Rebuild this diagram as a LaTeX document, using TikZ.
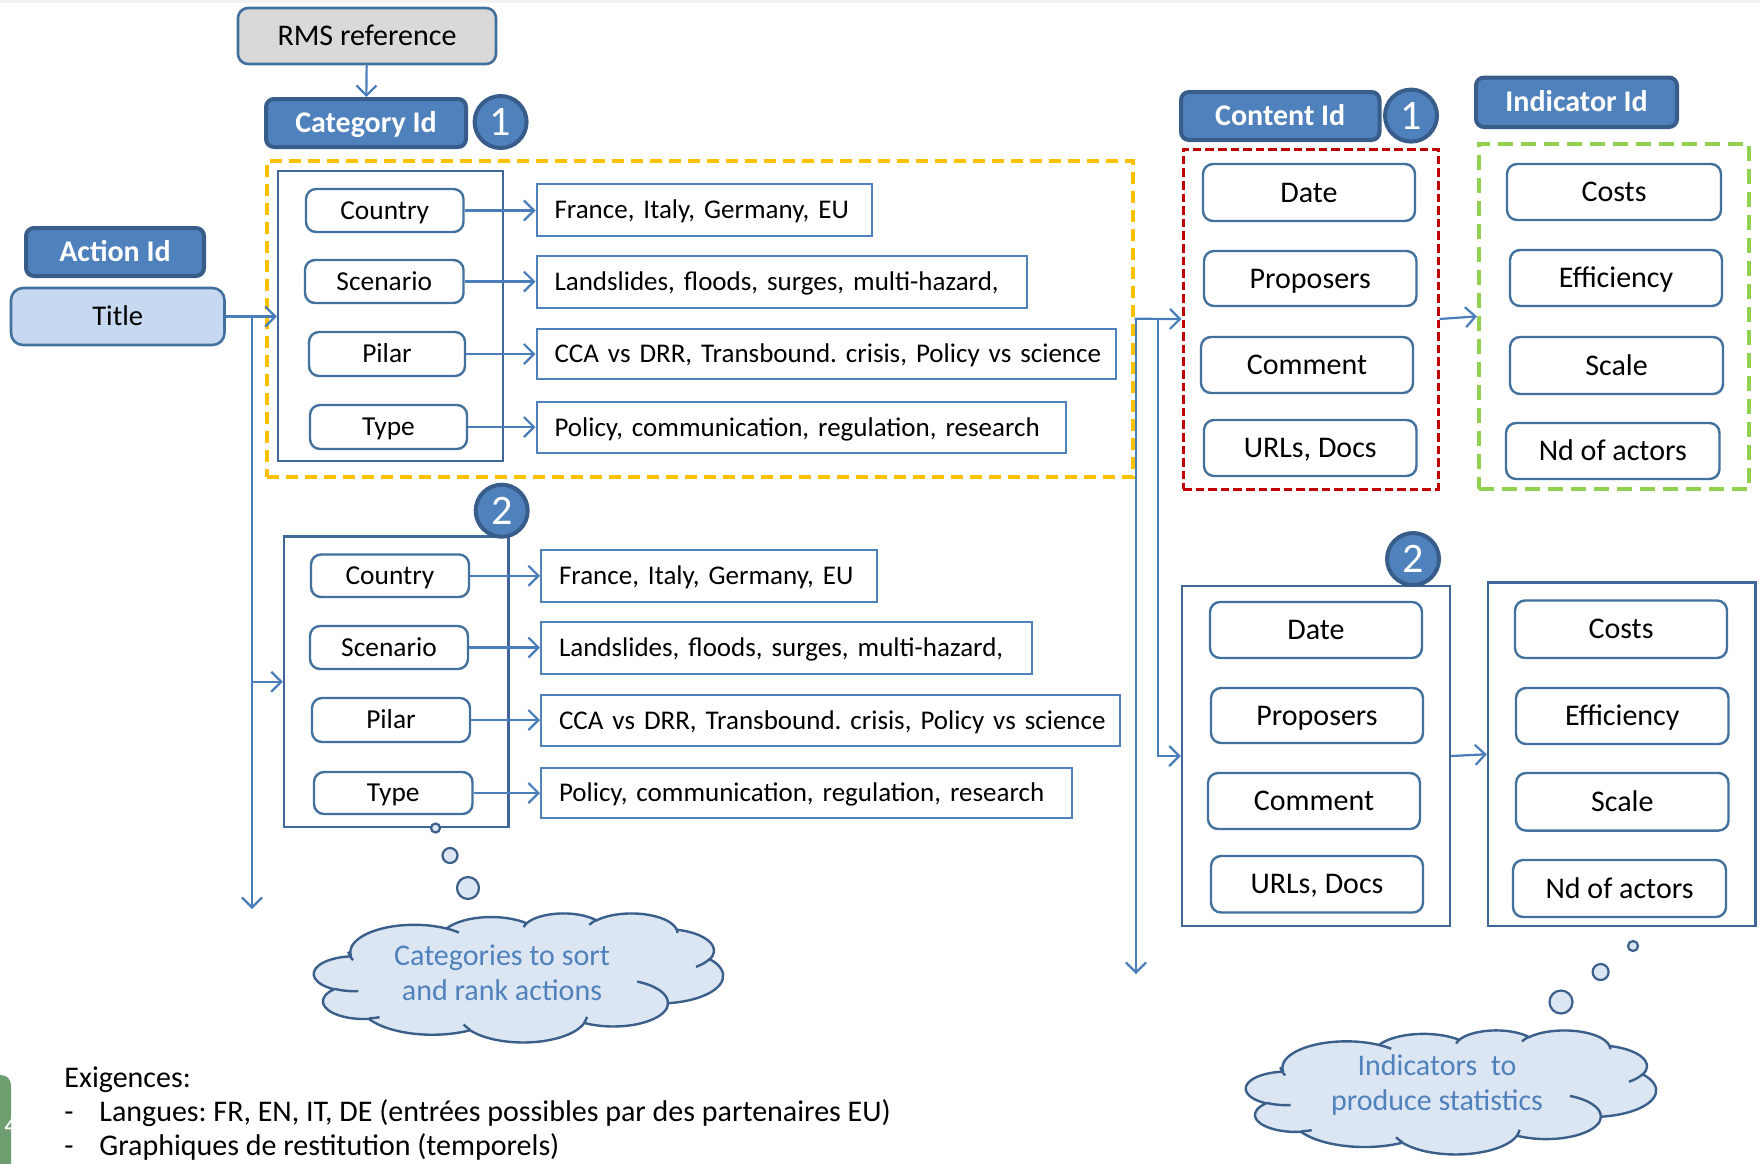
\documentclass[tikz,border=0pt]{standalone}
\usepackage{fontspec}
\setmainfont{Carlito}
\usetikzlibrary{arrows.meta,calc}
\definecolor{hdrfill}{HTML}{4F81BD}
\definecolor{hdrdraw}{HTML}{385D8A}
\definecolor{rdraw}{HTML}{41719C}
\definecolor{vdraw}{HTML}{4F81BD}
\definecolor{cdraw}{HTML}{3F6797}
\definecolor{arrc}{HTML}{4A7EBB}
\definecolor{titlefill}{HTML}{C6D9F1}
\definecolor{rmsfill}{HTML}{D9D9D9}
\definecolor{cloudfill}{HTML}{DCE6F2}
\definecolor{clouddraw}{HTML}{3A5F8B}
\definecolor{cloudtext}{HTML}{4F81BD}
\definecolor{orangec}{HTML}{FFC000}
\definecolor{redc}{HTML}{C00000}
\definecolor{greenc}{HTML}{92D050}
\definecolor{tabgreen}{HTML}{6E9E70}
\frenchspacing
\newcommand\mybox[7]{%
  \pgfmathsetmacro\bxw{(#5-#3)*0.5}\pgfmathsetmacro\bxh{(#6-#4)*0.5}%
  \node[#1,minimum width=\bxw pt,minimum height=\bxh pt] (#2) at ({(#3+#5)/2},{(#4+#6)/2}) {#7};}
\newcommand\myval[6]{%
  \pgfmathsetmacro\bxw{(#4-#2)*0.5-18}\pgfmathsetmacro\bxh{(#5-#3)*0.5}%
  \node[vbox,text width=\bxw pt,minimum height=\bxh pt] (#1) at ({(#2+#4)/2},{(#3+#5)/2}) {\mbox{#6}};}
% arc in the DrawingML sense (visual angles), radii wR hR, start and sweep in degrees
\newcommand\ooarc[4]{\pgfextra{%
  \pgfmathsetmacro\oaA{atan2((#1)*sin(#3),(#2)*cos(#3))}%
  \pgfmathsetmacro\oaB{atan2((#1)*sin((#3)+(#4)),(#2)*cos((#3)+(#4)))}%
  \pgfmathsetmacro\oaD{\oaB-\oaA}%
  \pgfmathsetmacro\oaD{\oaD+360*round(((#4)-\oaD)/360)}%
  } arc[start angle=\oaA, delta angle=\oaD, x radius=#1, y radius=#2]}
\newcommand\oocloud[4]{%
  \begin{scope}[shift={(#1,#2)},xscale=#3/432,yscale=#4/432]
  \draw[cloudline,fill=cloudfill] (39.00,143.70)
    \ooarc{67.53}{91.90}{-190.48748}{123.78053}
    \ooarc{53.33}{72.67}{-144.10238}{89.94523}
    \ooarc{43.65}{59.45}{-145.80792}{99.72302}
    \ooarc{48.57}{65.95}{-130.98607}{117.24173}
    \ooarc{53.33}{72.73}{-78.70888}{109.02692}
    \ooarc{67.75}{92.20}{-46.26725}{130.269}
    \ooarc{57.85}{78.67}{0.62502}{114.03333}
    \ooarc{67.52}{92.15}{22.4516}{115.17255}
    \ooarc{77.20}{105.43}{66.24263}{75.71102}
    \ooarc{43.60}{59.18}{-274.94208}{146.73557}
    \ooarc{43.45}{59.45}{-246.8285}{152.51885} -- cycle;
  \draw[cloudline]
    (46.93,261.77) \ooarc{43.45}{59.45}{86.742}{26.4295}
    (69.28,348.99) \ooarc{43.60}{59.18}{73.61047}{11.44747}
    (164.78,390.90) \ooarc{67.52}{92.15}{137.62415}{14.0811}
    (288.27,347.51) \ooarc{67.52}{92.15}{6.45327}{15.99835}
    (341.29,229.54) \ooarc{57.85}{78.67}{-70.29235}{70.91737}
    (417.98,153.54) \ooarc{53.33}{72.73}{30.31803}{27.7515}
    (383.24,54.26) \ooarc{48.57}{65.95}{-13.74433}{14.8589}
    (290.78,39.52) \ooarc{48.57}{65.95}{-149.18145}{18.19537}
    (221.41,47.20) \ooarc{43.65}{59.45}{-163.49427}{17.68635}
    (140.00,51.92) \ooarc{67.53}{91.90}{-66.70695}{12.31935}
    (41.27,157.89) \ooarc{67.53}{91.90}{150.0855}{23.66427};
  \end{scope}}
\begin{document}
\begin{tikzpicture}[x=0.5pt,y=-0.5pt,
  hdr/.style={draw=hdrdraw,fill=hdrfill,line width=2pt,rounded corners=4pt,text=white,font=\fontsize{15}{18}\selectfont\bfseries,inner sep=0pt,text height=13.3pt,text depth=3.8pt},
  rbox/.style={draw=rdraw,fill=white,line width=1.2pt,rounded corners=5pt,font=\fontsize{13.7}{16}\selectfont,inner sep=0pt,text height=12.2pt,text depth=3.5pt},
  rboxb/.style={rbox,font=\fontsize{15}{18}\selectfont,text height=13.3pt,text depth=3.8pt},
  vbox/.style={draw=vdraw,fill=white,line width=1pt,font=\fontsize{13.5}{16}\selectfont,inner ysep=0pt,inner xsep=9pt,align=left,text height=12pt,text depth=3.4pt},
  cont/.style={draw=cdraw,line width=1.2pt,inner sep=0pt},
  orngbox/.style={draw=orangec,line width=2pt,dash pattern=on 6pt off 3.5pt,inner sep=0pt},
  redbox/.style={draw=redc,line width=1.5pt,dash pattern=on 4.3pt off 2pt,inner sep=0pt},
  greenbox/.style={draw=greenc,line width=2pt,dash pattern=on 7.5pt off 4pt,inner sep=0pt},
  rmsbox/.style={draw=rdraw,fill=rmsfill,line width=1.3pt,rounded corners=5pt,font=\fontsize{15}{18}\selectfont,inner sep=0pt,text height=13.3pt,text depth=3.8pt},
  titlebox/.style={draw=rdraw,fill=titlefill,line width=1.3pt,rounded corners=6pt,font=\fontsize{14.3}{17}\selectfont,inner sep=0pt,text height=12.7pt,text depth=3.6pt},
  numc/.style={circle,draw=hdrdraw,fill=hdrfill,line width=2pt,text=white,font=\fontsize{21}{21}\selectfont,inner sep=0pt,minimum size=26pt},
  arr/.style={draw=arrc,line width=1.1pt,-{Straight Barb[length=5pt,width=10pt,line width=1.1pt]}},
  bub/.style={circle,draw=clouddraw,fill=cloudfill,line width=1.1pt,inner sep=0pt},
  cloudline/.style={draw=clouddraw,line width=1.2pt},
  cloudtxt/.style={text=cloudtext,align=center,font=\fontsize{15}{17.5}\selectfont,inner sep=0pt},
  txt/.style={anchor=base west,font=\fontsize{15}{17}\selectfont,inner sep=0pt}
]
\useasboundingbox (0,0) rectangle (1760,1163);
\fill[gray!10] (0,0) rectangle (1760,2.5);
% containers
\mybox{orngbox}{orng}{267}{160.5}{1132.5}{477}{}
\mybox{cont}{in1}{278}{171}{503}{461}{}
\mybox{cont}{in2}{284}{536.5}{508.5}{827}{}
\mybox{redbox}{red}{1183}{149}{1438}{489}{}
\mybox{greenbox}{green}{1479}{143.7}{1749}{489}{}
\mybox{cont}{bx2}{1182}{586}{1450}{926}{}
\mybox{cont}{ib2}{1488}{582.5}{1755.5}{926}{}
% headers
\mybox{rmsbox}{rms}{238}{8}{496}{64}{RMS reference}
\mybox{hdr}{cat}{266}{99}{466}{147}{Category Id}
\mybox{hdr}{act}{26}{228}{204}{276}{Action Id}
\mybox{titlebox}{title}{11}{288}{224.5}{345}{Title}
\mybox{hdr}{cid}{1181}{92}{1379.5}{140}{Content Id}
\mybox{hdr}{iid}{1476}{77.5}{1677}{127}{Indicator Id}
\node[numc] (n1) at (500.6,122) {1};
\node[numc] (n2) at (501.7,510.7) {2};
\node[numc] (n3) at (1411,115.6) {1};
\node[numc] (n4) at (1413,559) {2};
% group 1
\mybox{rbox}{c1}{306}{189}{463.5}{232}{Country}
\mybox{rbox}{s1}{305}{260}{463.5}{303}{Scenario}
\mybox{rbox}{p1}{309}{332}{465}{376}{Pilar}
\mybox{rbox}{t1}{310}{405}{467}{449}{Type}
\myval{f1}{536.5}{184}{872}{236}{France, Italy, Germany, EU}
\myval{l1}{536.5}{256}{1027}{307.5}{Landslides, floods, surges, multi-hazard,}
\myval{a1}{536.5}{329}{1115.7}{379}{CCA vs DRR, Transbound. crisis, Policy vs science}
\myval{o1}{536.5}{402}{1066}{453}{Policy, communication, regulation, research}
% group 2
\mybox{rbox}{c2}{311}{554.5}{469}{597}{Country}
\mybox{rbox}{s2}{310}{626}{468}{669}{Scenario}
\mybox{rbox}{p2}{312}{698}{470}{742}{Pilar}
\mybox{rbox}{t2}{314}{772}{472.5}{814}{Type}
\myval{f2}{541}{550}{876.6}{601.6}{France, Italy, Germany, EU}
\myval{l2}{541}{622}{1031.5}{673.5}{Landslides, floods, surges, multi-hazard,}
\myval{a2}{541}{695}{1120}{746}{CCA vs DRR, Transbound. crisis, Policy vs science}
\myval{o2}{541}{768}{1072}{818}{Policy, communication, regulation, research}
% content 1
\mybox{rboxb}{d1}{1203}{164}{1415}{221}{Date}
\mybox{rboxb}{pr1}{1204}{251}{1416.5}{306}{Proposers}
\mybox{rboxb}{cm1}{1201}{337}{1413}{393}{Comment}
\mybox{rboxb}{u1}{1204}{420}{1416.5}{476}{URLs, Docs}
\mybox{rboxb}{co1}{1507}{164}{1721}{220}{Costs}
\mybox{rboxb}{ef1}{1510}{250}{1722}{306}{Efficiency}
\mybox{rboxb}{sc1}{1510}{337}{1723}{394}{Scale}
\mybox{rboxb}{nd1}{1506}{423}{1719.5}{479}{Nd of actors}
% content 2
\mybox{rboxb}{d2}{1210}{602}{1422}{658}{Date}
\mybox{rboxb}{pr2}{1211}{688}{1423}{743}{Proposers}
\mybox{rboxb}{cm2}{1208}{773}{1420}{829}{Comment}
\mybox{rboxb}{u2}{1211}{856}{1423}{912.5}{URLs, Docs}
\mybox{rboxb}{co2}{1515}{600.5}{1727}{658}{Costs}
\mybox{rboxb}{ef2}{1516}{688}{1728.5}{744}{Efficiency}
\mybox{rboxb}{sc2}{1516}{773}{1728.5}{830.6}{Scale}
\mybox{rboxb}{nd2}{1513}{860}{1726}{917}{Nd of actors}
% connectors
\draw[arr] (rms) -- (cat);
\coordinate (j1) at (252,316.5);
\coordinate (ldn) at (252,909);
\draw[arr] (title.east) -- (title.east -| in1.west);
\draw[arr] (j1) -- (ldn);
\draw[arr] (j1) |- (in2.west);
\foreach \a/\b in {c1/f1,s1/l1,p1/a1,t1/o1,c2/f2,s2/l2,p2/a2,t2/o2}{
  \draw[arr] (\a.east) -- (\a.east -| \b.west);
}
\coordinate (j2) at (1136,318.8);
\coordinate (mdn) at (1136,974);
\coordinate (j3) at (1158,318.8);
\draw[arr] (orng.east) -- (red.west);
\draw[arr] (j2) -- (mdn);
\draw[arr] (j3) |- (bx2.west);
\draw[arr] (red.east) -- (green.west);
\draw[arr] (bx2.east) -- (ib2.west);
% clouds
\node[bub,minimum size=4.5pt] (b1) at (435.5,828) {};
\node[bub,minimum size=7.5pt] (b2) at (450,855.5) {};
\node[bub,minimum size=11pt] (b3) at (468,888) {};
\oocloud{314}{913}{409}{129}
\node[cloudtxt] (cl1t) at (502,973) {Categories to sort\\and rank actions};
\node[bub,minimum size=5pt] (b4) at (1633,946) {};
\node[bub,minimum size=8pt] (b5) at (1600.6,972) {};
\node[bub,minimum size=11.5pt] (b6) at (1561,1002) {};
\oocloud{1246}{1030}{410}{124}
\node[cloudtxt] (cl2t) at (1437,1084.5) {Indicators~ to\\produce statistics};
% bottom text
\fill[tabgreen,rounded corners=5pt] (-10,1075) rectangle (11,1190);
\node[anchor=base west,text=white,font=\fontsize{14}{16}\selectfont,inner sep=0pt] (tabn) at (4,1134) {4};
\node[txt] (ex) at (64,1087) {Exigences:};
\node[txt] (d1m) at (64,1121.5) {-};
\node[txt] (e1) at (99,1121.5) {Langues: FR, EN, IT, DE (entrées possibles par des partenaires EU)};
\node[txt] (d2m) at (64,1155) {-};
\node[txt] (e2) at (99,1155) {Graphiques de restitution (temporels)};
\end{tikzpicture}
\end{document}
